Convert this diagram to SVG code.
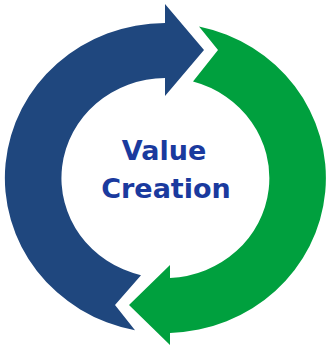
<svg xmlns="http://www.w3.org/2000/svg" width="328" height="347" viewBox="0 0 328 347">
  <style>
    .blue { fill: #1F477E; }
    .green { fill: #00A03E; }
    .label { font-family: "DejaVu Sans", Verdana, sans-serif; font-weight: bold; font-size: 27px; fill: #1A3A9E; text-anchor: middle; }
  </style>
  <rect width="328" height="347" fill="#FFFFFF"/>
  <g id="blue-arrow">
    <path class="blue" d="M135,330.2 L115,305 L141,275.2 A104,100 0 0 1 165,78 L165,96 L204,50 L165,4 L165,23 A160.5,155 0 0 0 135,330.2 Z"/>
  </g>
  <g id="green-arrow">
    <path class="green" d="M199,26.4 L218,50 L193,81.6 A104,100 0 0 1 170,277.9 L170,265 L129,305 L170,345 L170,332.9 A160.5,155 0 0 0 199,26.4 Z"/>
  </g>
  <g id="value-creation">
    <text class="label" x="164" y="160">Value</text>
    <text class="label" x="166" y="198">Creation</text>
  </g>
</svg>
